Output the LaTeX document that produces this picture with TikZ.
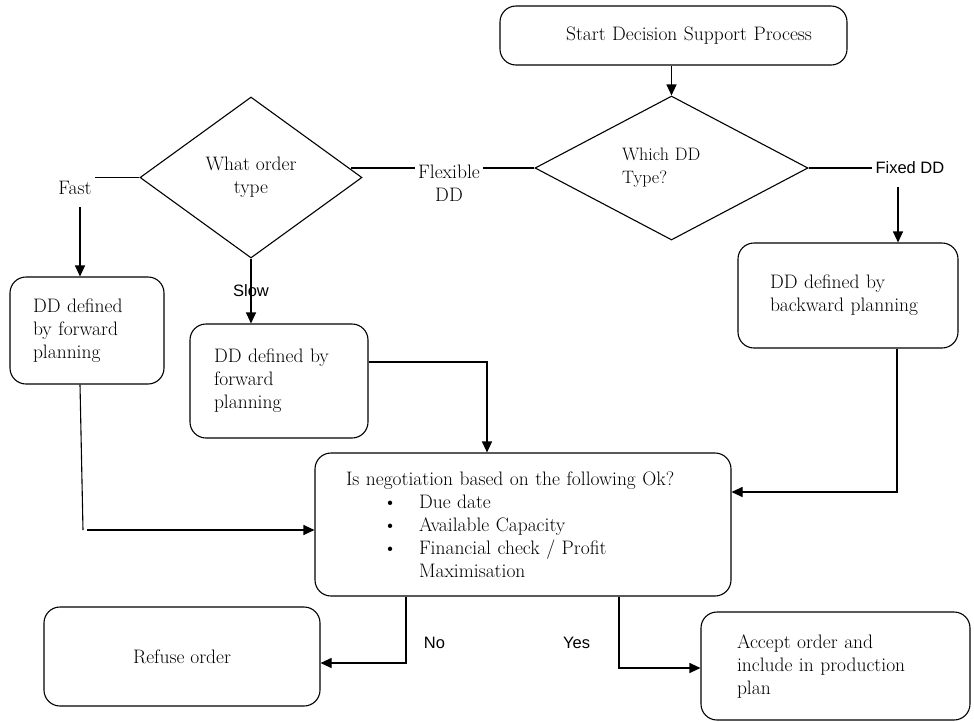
\documentclass[tikz,border=0pt]{standalone}
\usepackage{fontspec}
\setsansfont{Liberation Sans}
\usetikzlibrary{arrows.meta,shapes.geometric}
\newcommand{\rmtext}{\fontsize{19.5}{23}\selectfont}
\newcommand{\sflab}{\sffamily\fontsize{16.5}{19}\selectfont}
\newcommand{\negitem}[1]{\makebox[73pt][l]{\hspace{37pt}\textbullet}#1}
\tikzset{
  box/.style={draw,rounded corners=16pt,line width=1.1pt,align=left,font=\rmtext},
  decision/.style={draw,diamond,line width=1.1pt,inner sep=0pt,align=center,font=\rmtext},
  conn/.style={line width=1.1pt},
  arr/.style={conn,-{Triangle[length=11pt,width=10pt]}},
  lab/.style={font=\sflab},
}

\begin{document}
\begin{tikzpicture}[x=1pt,y=-1pt]
\useasboundingbox (0,0) rectangle (974,721);
% boxes
\node[box,minimum width=347pt,minimum height=59pt,text width=277pt,align=right] (start) at (673.5,35.5) {Start Decision Support Process};
\node[decision,minimum width=222pt,minimum height=161pt] (order) at (251,177.5) {What order\\type};
\node[decision,minimum width=273pt,minimum height=144pt,text width=99pt,align=left,font=\fontsize{18}{23}\selectfont] (ddtype) at (671.5,168) {Which DD\\Type?};
\node[box,minimum width=154pt,minimum height=107pt,text width=108pt] (fwdA) at (87,330.5) {DD defined\\by forward\\planning};
\node[box,minimum width=178pt,minimum height=114pt,text width=130pt] (fwdB) at (279,381) {DD defined by\\forward\\planning};
\node[box,minimum width=220pt,minimum height=105pt,text width=156pt] (bwd) at (848,295.5) {DD defined by\\backward planning};
\node[box,minimum width=416pt,minimum height=143pt,text width=354pt] (neg) at (523,524.5) {Is negotiation based on the following Ok?\\
  \negitem{Due date}\\
  \negitem{Available Capacity}\\
  \negitem{Financial check / Profit}\\
  \hspace*{73pt}Maximisation};
\node[box,minimum width=276pt,minimum height=99pt,align=center] (refuse) at (182,656.5) {Refuse order};
\node[box,minimum width=269pt,minimum height=108pt,text width=197pt] (accept) at (835.5,666) {Accept order and\\include in production\\plan};

% branch labels
\node[font=\rmtext] (fast) at (75,188) {Fast};
\node[font=\rmtext,align=center] (flex) at (449,183.5) {Flexible\\DD};
\node[lab,anchor=west] (fixed) at (872,168) {Fixed DD};

% connectors
\coordinate (fa) at (80,207);
\coordinate (fx) at (898,187);
\coordinate (mj) at (487,362);
\coordinate (la) at (83,530);
\coordinate (rj) at (897,492);
\coordinate (nj) at (406,663);
\coordinate (yj) at (619,668);
\draw[arr] (start.south -| ddtype.north) -- (ddtype.north);
\draw[conn] (ddtype.west) -- (ddtype.west -| flex.east);
\draw[conn] (ddtype.west -| flex.west) -- (ddtype.west -| order.5);
\draw[conn] (ddtype.east) -- (fixed.west);
\draw[arr] (fx) -- (fx |- bwd.north);
\draw[conn] (order.west) -- (order.west -| fast.east);
\draw[arr] (fa) -- (fa |- fwdA.north);
\draw[arr] (order.south) -- (order.south |- fwdB.north) node[midway,lab]{Slow};
\draw[arr] (fwdB.east |- mj) -- (mj) -- (mj |- neg.north);
\draw[conn] (fwdA.south -| fa) -- (la);
\draw[arr] ([xshift=4pt]la) -- (la -| neg.west);
\draw[arr] (bwd.south -| rj) -- (rj) -- (rj -| neg.east);
\draw[arr] (neg.south -| nj) -- (nj) node[pos=0.7,right=14pt,lab]{No} -- (nj -| refuse.east);
\draw[arr] (neg.south -| yj) -- (yj) node[pos=0.65,left=25pt,lab]{Yes} -- (yj -| accept.west);
\end{tikzpicture}
\end{document}
